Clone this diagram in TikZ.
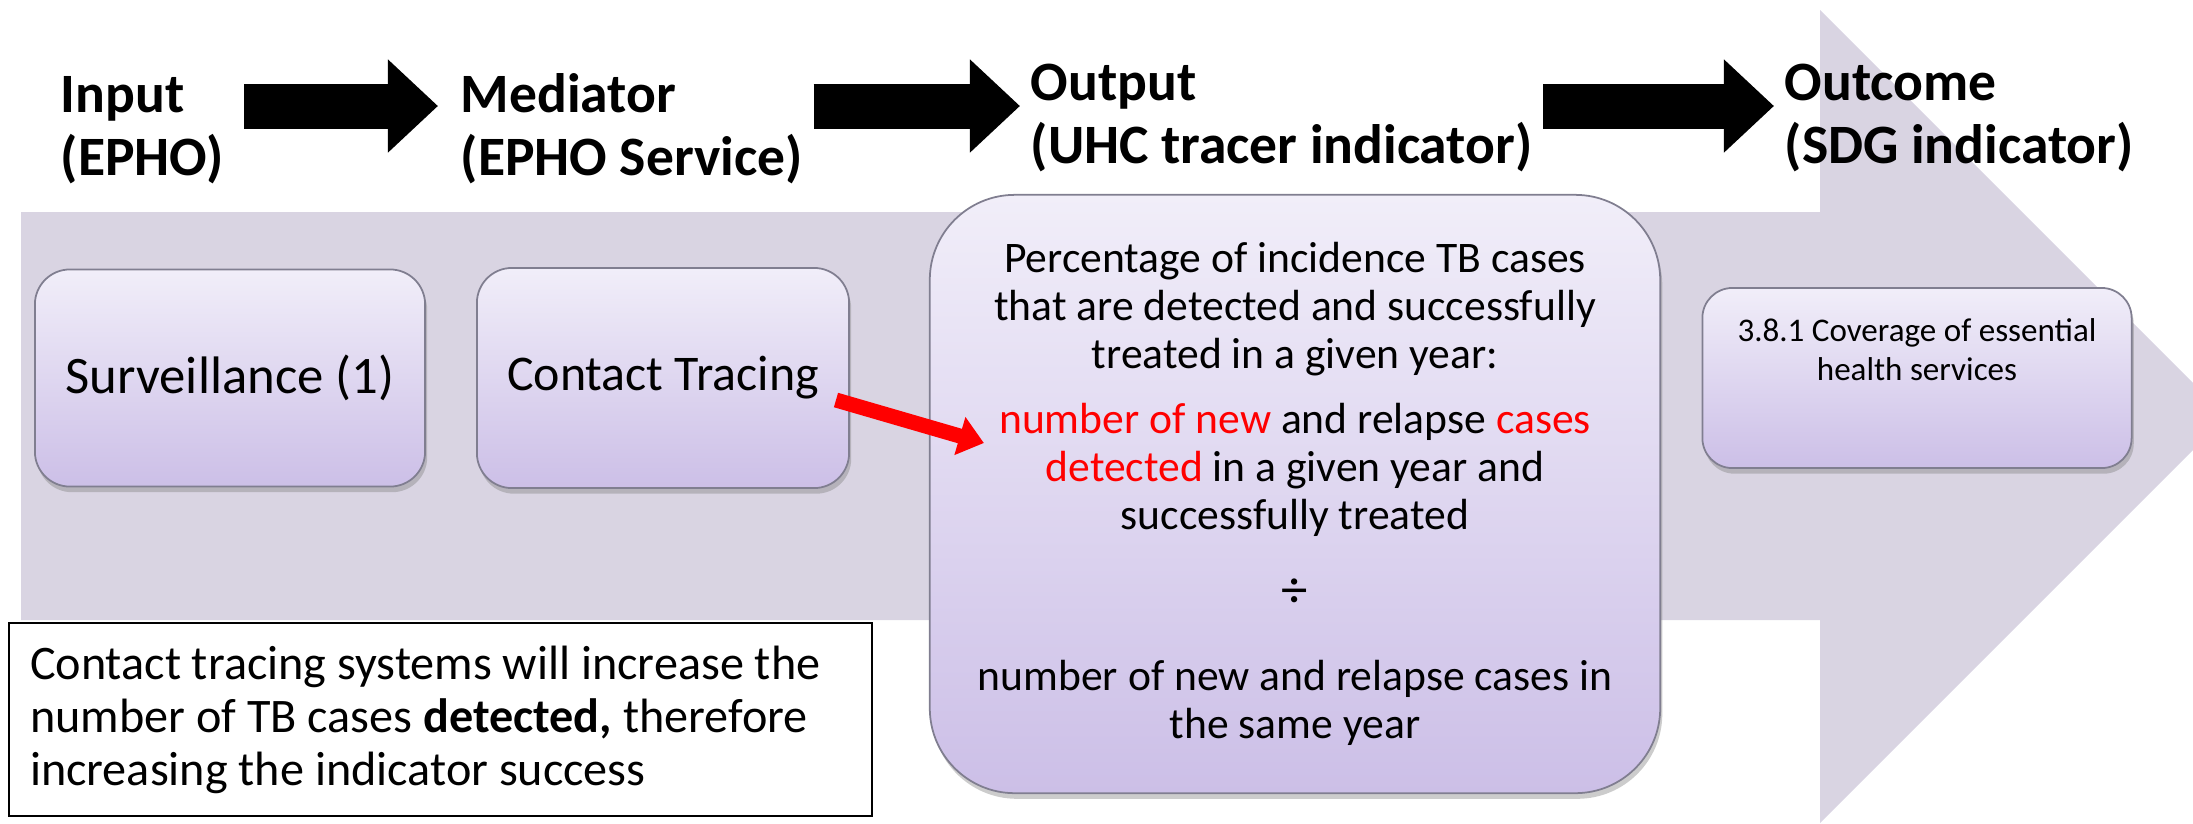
\documentclass[tikz,border=0pt]{standalone}
\usepackage{fontspec}
\setmainfont{Carlito}
\usetikzlibrary{arrows.meta,shadows,positioning}

\definecolor{bandgray}{RGB}{217,212,226}
\definecolor{boxtop}{RGB}{241,238,249}
\definecolor{boxbot}{RGB}{204,191,231}
\definecolor{boxline}{RGB}{128,126,144}

\tikzset{
  head/.style={font=\bfseries\fontsize{15.8}{17.9}\selectfont, align=left, inner sep=0.1cm},
  blockarrow/.style={line width=0.45cm, -{Triangle[length=0.5cm,width=0.9cm]}},
  stage/.style={draw=boxline, line width=0.5pt, rounded corners=0.35cm,
    top color=boxtop, bottom color=boxbot, align=center,
    drop shadow={opacity=0.4, shadow xshift=0.6pt, shadow yshift=-1.6pt}},
  redarrow/.style={draw=red, line width=0.15cm, -{Triangle[length=0.25cm,width=0.38cm]}}
}

\begin{document}
\begin{tikzpicture}[x=0.01cm,y=-0.01cm]
\useasboundingbox (0,0) rectangle (2193,823);

\fill[bandgray] (21,212) -- (1820,212) -- (1820,10) -- (2193,383) -- (2193,450)
  -- (1820,823) -- (1820,620) -- (21,620) -- cycle;

\node[head, anchor=base west] (input) at (50,175) {Input\\(EPHO)};
\node[head, anchor=base west] (mediator) at (450,175) {Mediator\\(EPHO Service)};
\node[head, anchor=base west] (output) at (1020,163) {Output\\(UHC tracer indicator)};
\node[head, anchor=base west] (outcome) at (1774,163) {Outcome\\(SDG indicator)};

\coordinate (arrowrow) at (0,106);
\path[draw,blockarrow,shorten <=0.1cm,shorten >=0.12cm] (input.east |- arrowrow) -- (mediator.west |- arrowrow);
\path[draw,blockarrow] (mediator.east |- arrowrow) -- (output.west |- arrowrow);
\path[draw,blockarrow] (output.east |- arrowrow) -- (outcome.west |- arrowrow);

\node[stage, minimum width=3.9cm, minimum height=2.17cm, font=\fontsize{15}{17}\selectfont] (surv) at (230,378) {Surveillance (1)};
\node[stage, minimum width=3.72cm, minimum height=2.2cm, font=\fontsize{14.2}{17}\selectfont] (ct) at (663,378) {Contact Tracing};

\node[stage, rounded corners=0.85cm, minimum width=7.3cm, minimum height=5.98cm, font=\fontsize{12.4}{13.66}\selectfont] (out) at (1295,494)
  {Percentage of incidence TB cases\\
   that are detected and successfully\\
   treated in a given year:\\[4.8pt]
   \textcolor{red}{number of new} and relapse \textcolor{red}{cases}\\
   \textcolor{red}{detected} in a given year and\\
   successfully treated\\[8.5pt]
   {\fontsize{15}{15}\selectfont ÷}\\[10pt]
   number of new and relapse cases in\\
   the same year};

\node[stage, rounded corners=0.3cm, minimum width=4.29cm, minimum height=1.8cm] (sdg) at (1917,378) {};
\node[anchor=north, inner sep=0, align=center, font=\fontsize{9.4}{11.1}\selectfont] (sdgtext) at (1917,318)
  {3.8.1 Coverage of essential\\ health services};

\node[draw, line width=0.6pt, fill=white, anchor=north west, text width=8.2cm, inner xsep=0.21cm,
  minimum height=1.93cm, align=flush left, font=\fontsize{13.7}{15.1}\selectfont] (note) at (8,622)
  {Contact tracing systems will increase the\\
   number of TB cases \textbf{detected,} therefore\\
   increasing the indicator success};

\path[redarrow] ([shift={(-14,22)}]ct.east) -- ([shift={(55,-51)}]out.west);

\end{tikzpicture}
\end{document}
